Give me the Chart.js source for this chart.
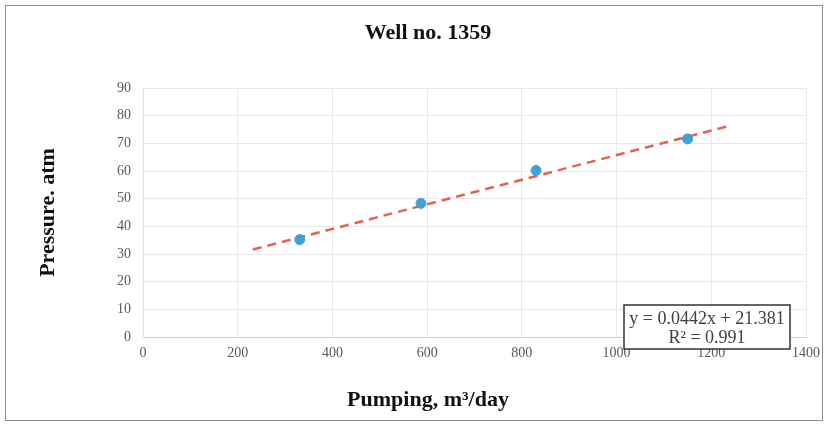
<!DOCTYPE html>
<html>
<head>
<meta charset="utf-8">
<script src="https://cdn.jsdelivr.net/npm/chart.js@4"></script>
<style>
  html, body { margin: 0; padding: 0; background: #fff; }
  #wrap { width: 828px; height: 425px; position: relative; }
</style>
</head>
<body>
<div id="wrap"><canvas id="chart" width="828" height="425"></canvas></div>
<script>
"use strict"

// data
const pumping = [331, 587, 830, 1150]
const pressure = [35.2, 48.3, 60.2, 71.6]
const trendX = [232, 1240]
const trendY = [31.6, 76.4]
const xTicks = [0, 200, 400, 600, 800, 1000, 1200, 1400]
const yTicks = [0, 10, 20, 30, 40, 50, 60, 70, 80, 90]
const eqLines = ['y = 0.0442x + 21.381', 'R\u00b2 = 0.991']
const chartTitle = 'Well no. 1359'
const xTitle = 'Pumping, m\u00b3/day'

const serif = "'Liberation Serif', 'DejaVu Serif', serif"

// frame, centred titles and the equation box
const extras = {
    id: 'extras',
    afterDraw(chart) {
        const ctx = chart.ctx
        ctx.save()
        ctx.strokeStyle = '#8c8c8c'
        ctx.lineWidth = 1
        ctx.strokeRect(5.5, 5.5, 817, 415)

        ctx.fillStyle = '#111'
        ctx.font = 'bold 22px ' + serif
        ctx.textAlign = 'center'
        ctx.textBaseline = 'middle'
        ctx.fillText(chartTitle, 428, 33)
        ctx.fillText(xTitle, 428, 400)

        const a = chart.chartArea
        const bx = a.right - 182, by = a.bottom - 32, bw = 166, bh = 44
        ctx.fillStyle = '#fff'
        ctx.fillRect(bx, by, bw, bh)
        ctx.strokeStyle = '#333'
        ctx.lineWidth = 1.5
        ctx.strokeRect(bx, by, bw, bh)
        ctx.fillStyle = '#404040'
        ctx.font = '18px ' + serif
        ctx.fillText(eqLines[0], bx + bw / 2, by + 14)
        ctx.fillText(eqLines[1], bx + bw / 2, by + 33)
        ctx.restore()
    }
}

const ctx = document.getElementById('chart').getContext('2d')
new Chart(ctx, {
    type: 'scatter',
    data: {
        datasets: [{
            data: pumping.map((x, i) => ({x: x, y: pressure[i]})),
            backgroundColor: '#40a0da',
            borderColor: '#40a0da',
            pointRadius: 5,
            order: 1
        }, {
            data: trendX.map((x, i) => ({x: x, y: trendY[i]})),
            showLine: true,
            borderColor: '#e3634c',
            borderWidth: 2.5,
            borderDash: [9, 6],
            pointRadius: 0,
            order: 2
        }]
    },
    options: {
        responsive: false,
        animation: false,
        layout: { padding: { left: 30, right: 22, top: 88, bottom: 14 } },
        plugins: {
            legend: { display: false },
            tooltip: { enabled: false },
            title: { display: false }
        },
        scales: {
            x: {
                type: 'linear',
                min: 0, max: 1400,
                afterBuildTicks: s => { s.ticks = xTicks.map(v => ({value: v})) },
                afterFit: s => { s.height = 74 },
                grid: { color: '#e8e8e8', drawTicks: false },
                border: { color: '#cfcfcf' },
                ticks: {
                    color: '#595959', padding: 8, maxRotation: 0, autoSkip: false,
                    font: { family: serif, size: 14 },
                    callback: v => String(v)
                }
            },
            y: {
                min: 0, max: 90,
                afterBuildTicks: s => { s.ticks = yTicks.map(v => ({value: v})) },
                afterFit: s => { s.width = 113 },
                grid: { color: '#e8e8e8', drawTicks: false },
                border: { color: '#e0e0e0' },
                ticks: {
                    color: '#595959', padding: 12, autoSkip: false,
                    font: { family: serif, size: 14 },
                    callback: v => String(v)
                },
                title: {
                    display: true,
                    text: 'Pressure. atm',
                    color: '#111',
                    font: { family: serif, size: 22, weight: 'bold' },
                    padding: { top: 5, bottom: 0 }
                }
            }
        }
    },
    plugins: [extras]
})
</script>
</body>
</html>
